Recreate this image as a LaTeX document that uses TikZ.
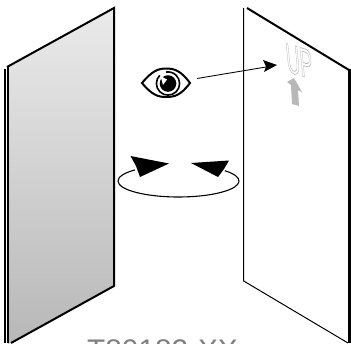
\documentclass[tikz,border=0pt]{standalone}
\usepackage{fontspec}
\setmainfont{Liberation Sans}
\definecolor{txt}{gray}{0.5}
\definecolor{upgray}{gray}{0.72}
\tikzset{
 panel edge/.style={draw=black,line width=2pt,line cap=butt},
 panel thin/.style={draw=black,line width=1pt},
 outlined/.style={font=\fontsize{42}{42}\selectfont,inner sep=0pt}
}
\newcommand{\outl}[1]{\special{pdf:code q 1 Tr 0.75 w 0.72 G}#1\special{pdf:code Q}}
\begin{document}
\begin{tikzpicture}[x=1pt,y=-1pt,line join=miter]
\useasboundingbox (0,0) rectangle (351,343);
\begin{scope}
\clip (0,0) rectangle (351,343);
\node[text=txt,font=\fontsize{29.8}{30}\selectfont,anchor=base,inner sep=0pt] (code) at (162.5,360.5) {T80182-XX};
% left panel
\shade[top color=black!8,bottom color=black!28] (8,67) -- (114,8) -- (114,286) -- (8,344) -- cycle;
\draw[panel edge] (7,67) -- (114,8) -- (114,286) -- (11,343);
\draw[panel edge] (4.8,69) -- (4.8,343);
\draw[panel edge] (8,67) -- (8,343);
% right panel
\draw[panel thin] (243.7,8) -- (243.7,281) -- (348,343);
\draw[panel edge] (247,8) -- (349,70);
\draw[draw=black,line width=2.8pt] (349.2,69) -- (349.2,343);
\end{scope}
% eye
\draw[line width=2pt,fill=white,line join=miter] (142,83) .. controls (152,71) and (158,68.5) .. (166,68.5) .. controls (175,68.5) and (181,71) .. (190,83) .. controls (181,95) and (175,97) .. (166,97) .. controls (158,97) and (152,95) .. (142,83) -- cycle;
\draw[line width=1.6pt] (159.8,75.3) arc[start angle=225,end angle=-100,radius=11.6];
\fill (168,83.5) circle (8.3);
\fill[white] (160.5,76) -- (167,79.5) -- (163,85) -- cycle;
% sight line
\coordinate (eyeend) at (197,78.5);
\coordinate (upmark) at (277,65);
\draw[line width=0.9pt] (eyeend) -- (266,67);
\fill (upmark) -- (263,60) -- (266,66.5) -- (264,72) -- cycle;
% UP
\node[outlined,anchor=base west,transform shape,cm={0.45,-0.13,-0.1,1,(0,0)}] (letters) at (287.5,72) {\outl{UP}};
% up arrow
\fill[upgray] (294,78) -- (287,82) -- (291,85) -- (292,104) -- (299,106) -- (298,90) -- (302,92) -- cycle;
% rotation
\draw[line width=1.1pt] (178.5,181) ++(224:60.5 and 16) arc[start angle=224,end angle=-40,x radius=60.5,y radius=16];
\fill (169,163.5) -- (130.5,156) -- (136,166) -- (140,177) -- cycle;
\fill (191,163) -- (229,160.5) -- (224,169) -- (218,177) -- cycle;
\end{tikzpicture}
\end{document}
